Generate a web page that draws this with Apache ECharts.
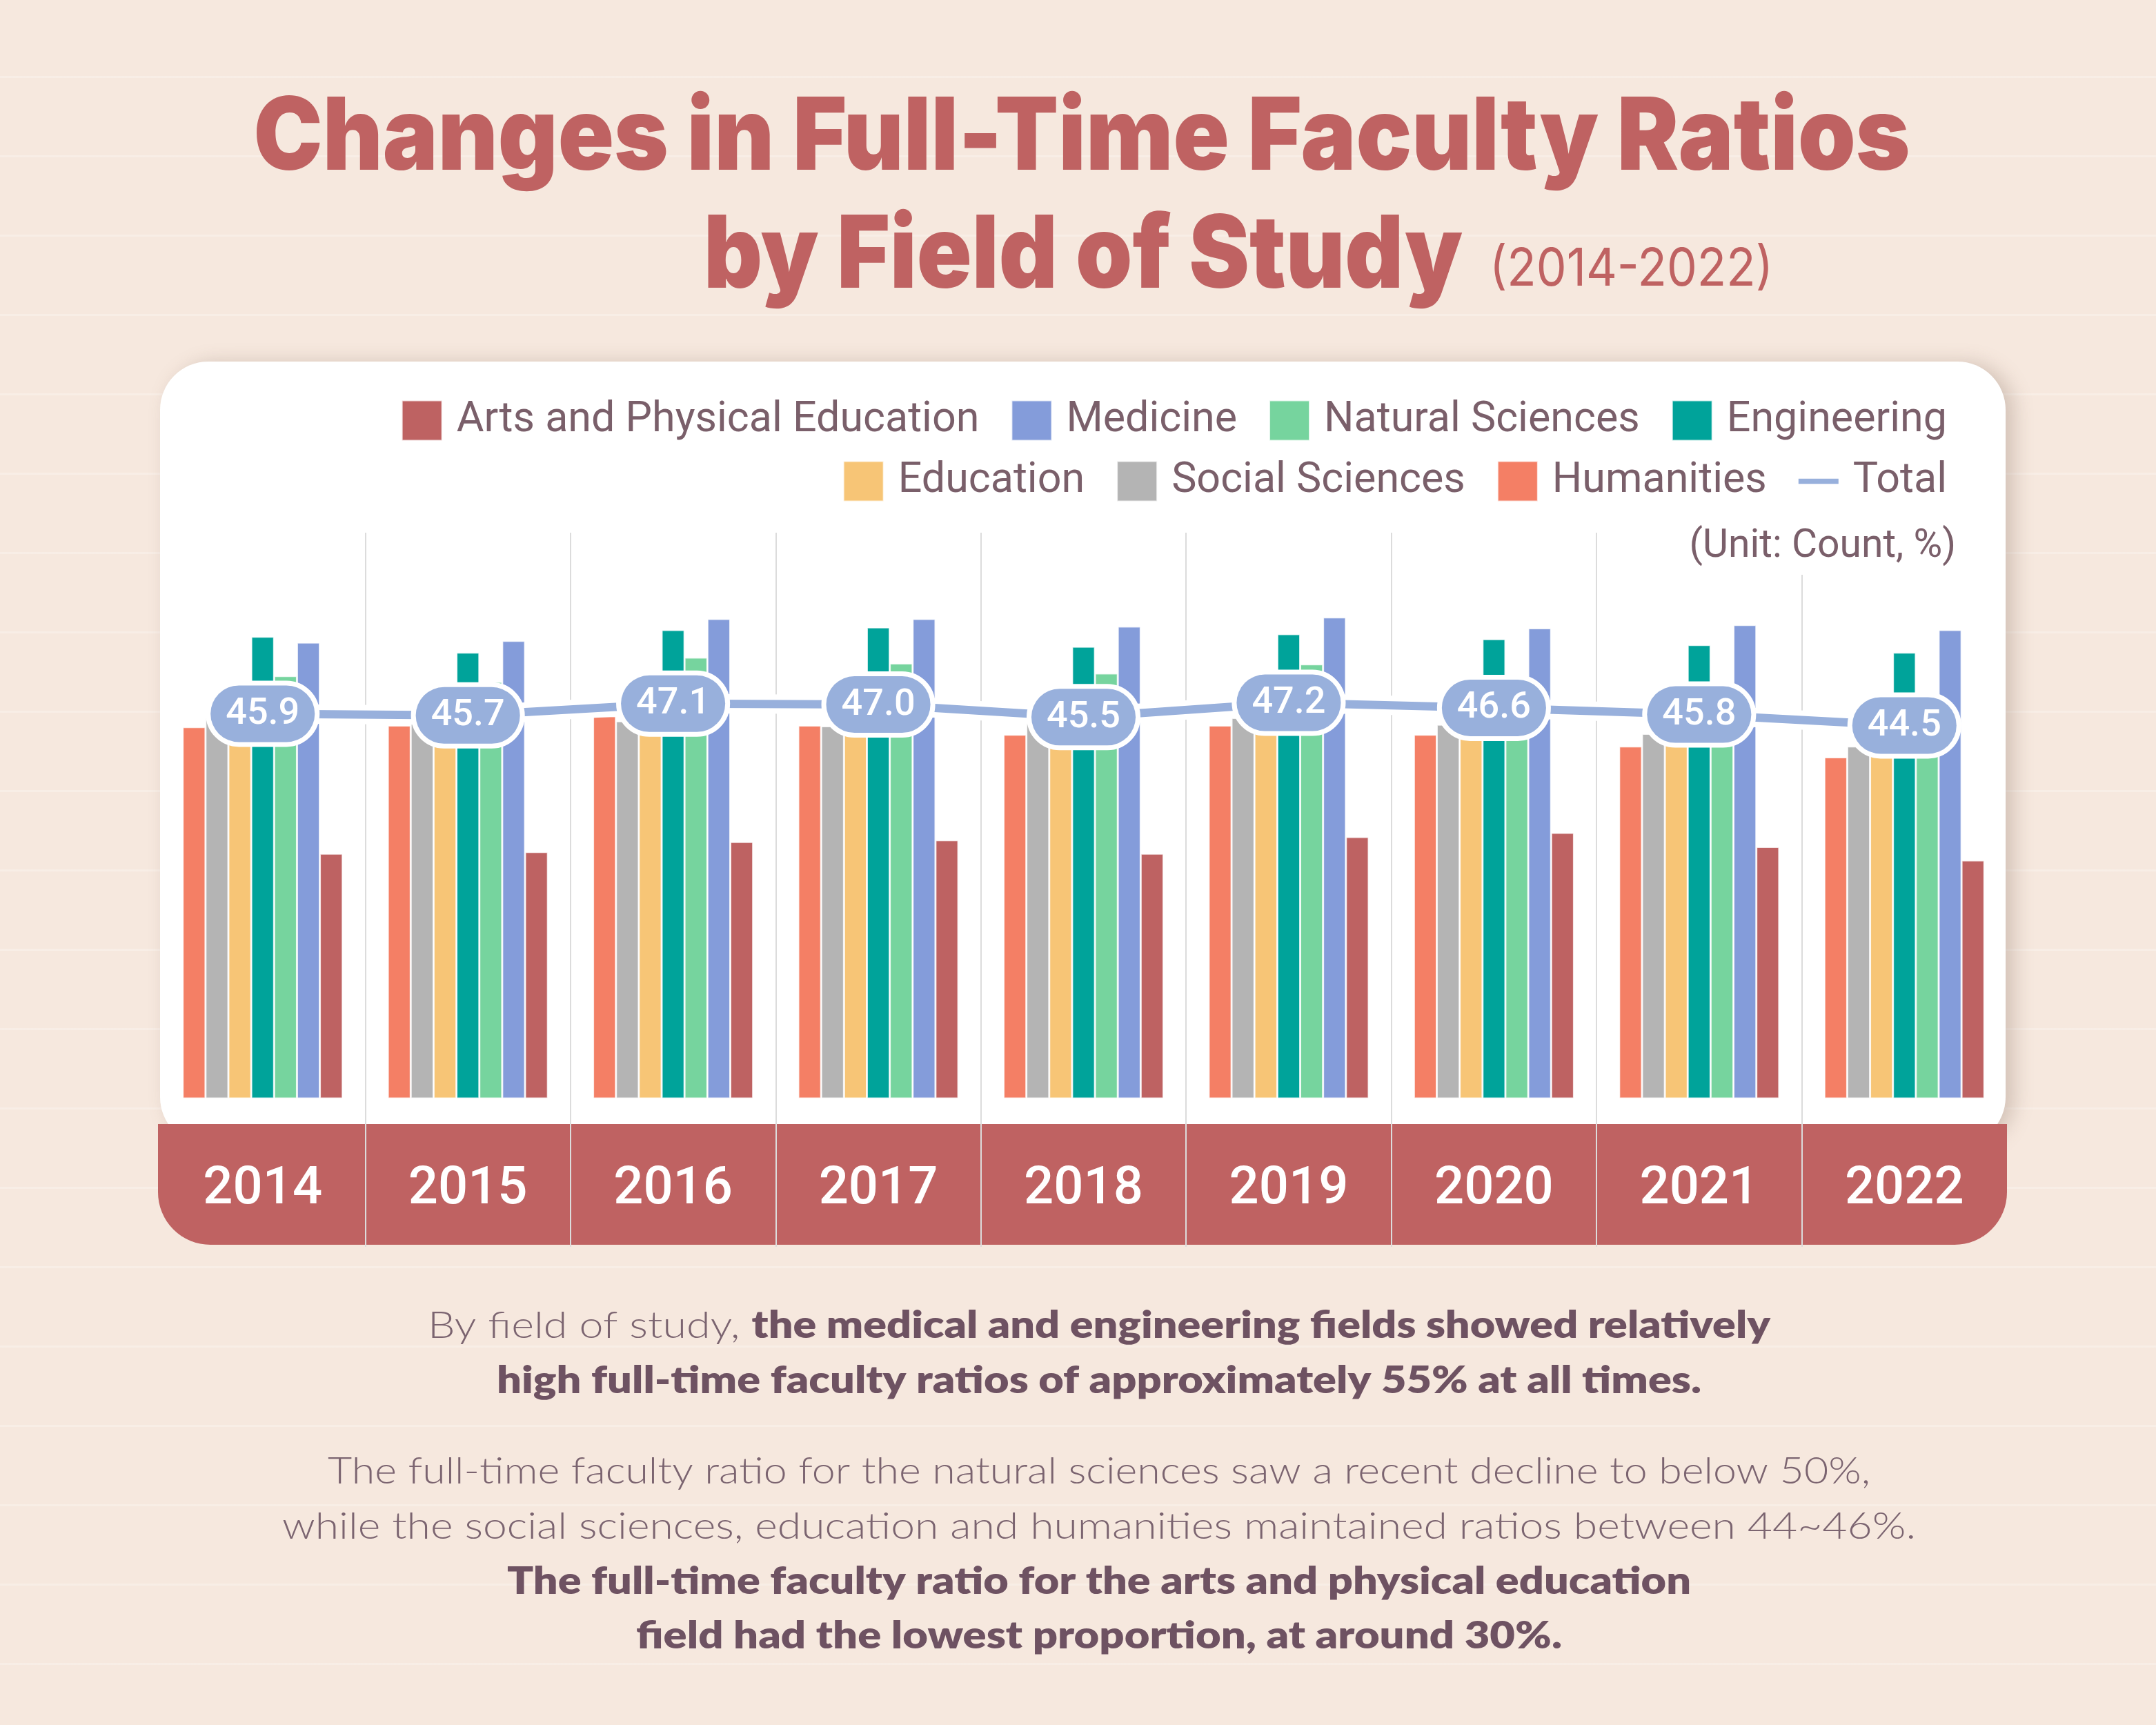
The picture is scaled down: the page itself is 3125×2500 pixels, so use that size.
<!DOCTYPE html>
<html>
<head>
<meta charset="utf-8">
<script src="https://cdn.jsdelivr.net/npm/echarts@6/dist/echarts.min.js"></script>
<style>
html,body{margin:0;padding:0;}
body{
  width:3125px;height:2500px;overflow:hidden;
  background-color:#f6e8de;
  background-image:repeating-linear-gradient(180deg, rgba(255,255,255,0) 0px, rgba(255,255,255,0) 110px, rgba(255,255,255,0.25) 110px, rgba(255,255,255,0.25) 113px, rgba(255,255,255,0) 113px, rgba(255,255,255,0) 115px);
}
#c{width:3125px;height:2500px;}
</style>
</head>
<body>
<div id="c"></div>
<script>
// ---------------- DATA ----------------
const years = ['2014','2015','2016','2017','2018','2019','2020','2021','2022'];
const humanities      = [44.3, 44.5, 45.6, 44.5, 43.4, 44.5, 43.4, 42.0, 40.7];
const socialSciences  = [45.4, 45.1, 45.0, 44.4, 44.8, 45.4, 44.6, 43.5, 42.0];
const education       = [45.1, 44.9, 45.5, 45.0, 44.6, 45.3, 44.9, 44.2, 43.2];
const engineering     = [55.1, 53.2, 55.9, 56.2, 53.9, 55.4, 54.8, 54.1, 53.2];
const naturalSciences = [50.4, 49.7, 52.6, 51.9, 50.7, 51.8, 50.4, 48.3, 47.0];
const medicine        = [54.4, 54.6, 57.2, 57.2, 56.3, 57.4, 56.1, 56.5, 55.9];
const artsPE          = [29.2, 29.4, 30.6, 30.8, 29.2, 31.2, 31.7, 30.0, 28.4];
const total           = [45.9, 45.7, 47.1, 47.0, 45.5, 47.2, 46.6, 45.8, 44.5];

const legendRow1 = ['Arts and Physical Education','Medicine','Natural Sciences','Engineering'];
const legendRow2 = ['Education','Social Sciences','Humanities','Total'];
const unitText = '(Unit: Count, %)';

const titleLine1 = 'Changes in Full-Time Faculty Ratios';
const titleLine2 = 'by Field of Study';
const titleYears = '(2014-2022)';
const noteLines = [
  [['r','By field of study, '],['b','the medical and engineering fields showed relatively']],
  [['b','high full-time faculty ratios of approximately 55% at all times.']],
  [['r','The full-time faculty ratio for the natural sciences saw a recent decline to below 50%,']],
  [['r','while the social sciences, education and humanities maintained ratios between 44~46%.']],
  [['b','The full-time faculty ratio for the arts and physical education']],
  [['b','field had the lowest proportion, at around 30%.']]
];

// ---------------- STYLE ----------------
const C = {
  humanities:'#f47f65', social:'#b4b4b4', education:'#f7c576', engineering:'#00a39a',
  natural:'#76d49e', medicine:'#849cda', arts:'#be6262', total:'#98b0dc',
  title:'#bf6262', band:'#bf6262', text:'#7a5f6a', noteR:'#7b6470', noteB:'#6e5262'
};
const noteLayout = [ // [centerY, targetWidth]
  [1922, 1946],[2002, 1746],[2133, 2236],[2213, 2368],[2293, 1716],[2372, 1342]
];

const ctx = document.createElement('canvas').getContext('2d');
function measure(segs){
  let t = 0;
  for (const s of segs){ ctx.font = s.weight + ' ' + s.size + 'px ' + s.family; t += ctx.measureText(s.text).width; }
  return t;
}

const graphics = [];
// card
graphics.push({type:'rect', z:-20, shape:{x:232,y:524,width:2675,height:1136,r:70},
  style:{fill:'#ffffff', shadowBlur:28, shadowOffsetX:12, shadowOffsetY:2, shadowColor:'rgba(120,95,80,0.28)'}});
// year band
graphics.push({type:'rect', z:-10, shape:{x:229,y:1629,width:2680,height:175,r:[0,0,76,76]},
  style:{fill:C.band}});

// title
(function(){
  const fam = 'Inter', size = 146;
  const w1 = measure([{text:titleLine1, size, weight:900, family:fam}]);
  graphics.push({type:'text', z:30, x:1568, y:202, scaleX:2401/w1,
    style:{text:titleLine1, fontFamily:fam, fontWeight:900, fontSize:size, fill:C.title, align:'center', verticalAlign:'middle'}});
  const w2 = measure([{text:titleLine2, size, weight:900, family:fam}]);
  graphics.push({type:'text', z:30, x:1020, y:373, scaleX:1100/w2,
    style:{text:titleLine2, fontFamily:fam, fontWeight:900, fontSize:size, fill:C.title, align:'left', verticalAlign:'middle'}});
  const w3 = measure([{text:titleYears, size:76, weight:400, family:fam}]);
  graphics.push({type:'text', z:30, x:2159, y:391, scaleX:411/w3,
    style:{text:titleYears, fontFamily:fam, fontWeight:400, fontSize:76, fill:C.title, align:'left', verticalAlign:'middle'}});
})();

// notes
(function(){
  const fam = 'Lato', size = 54;
  const rich = {
    r:{fontFamily:fam, fontWeight:300, fontSize:size, fill:C.noteR},
    b:{fontFamily:fam, fontWeight:800, fontSize:size, fill:C.noteB}
  };
  noteLines.forEach((segs, i) => {
    const m = measure(segs.map(s => ({text:s[1], size, weight: s[0]==='b'?800:300, family:fam})));
    const str = segs.map(s => '{' + s[0] + '|' + s[1] + '}').join('');
    graphics.push({type:'text', z:30, x:1593, y:noteLayout[i][0], scaleX:noteLayout[i][1]/m,
      style:{text:str, rich, fontFamily:fam, fontSize:size, fill:C.noteR, align:'center', verticalAlign:'middle'}});
  });
})();

const barNames = ['Humanities','Social Sciences','Education','Engineering','Natural Sciences','Medicine','Arts and Physical Education'];
const barData = [humanities, socialSciences, education, engineering, naturalSciences, medicine, artsPE];
const barColors = [C.humanities, C.social, C.education, C.engineering, C.natural, C.medicine, C.arts];

const series = barNames.map((n, i) => ({
  name:n, type:'bar', data:barData[i], barGap:'0%', barCategoryGap:'22%', z:2,
  itemStyle:{color:barColors[i], borderColor:'rgba(255,255,255,0.75)', borderWidth:1.5},
  emphasis:{disabled:true}, silent:true
}));
series.push({
  name:'_totalUnder', type:'line', data:total, z:3, symbol:'none', silent:true,
  lineStyle:{color:'#ffffff', width:28}, itemStyle:{color:'#ffffff'}, emphasis:{disabled:true}
});
series.push({
  name:'Total', type:'line', data:total, z:4, symbol:'circle', symbolSize:2, silent:true,
  lineStyle:{color:C.total, width:12}, itemStyle:{color:C.total}, emphasis:{disabled:true},
  label:{show:true, position:'inside', formatter:p => '{v|' + p.value.toFixed(1) + '}',
    rich:{v:{color:'#ffffff', fontFamily:'Roboto', fontWeight:500, fontSize:54, lineHeight:54}},
    color:'#ffffff', fontFamily:'Roboto', fontWeight:500, fontSize:54,
    backgroundColor:C.total, borderColor:'#ffffff', borderWidth:7, borderRadius:46, padding:[15,22,13,22]}
});

const legendCommon = {
  orient:'horizontal', right:303, padding:0, itemWidth:58, itemHeight:58, itemGap:46,
  selectedMode:false, icon:'rect',
  textStyle:{fontFamily:'Roboto', fontSize:61, color:C.text, padding:[0,0,0,16]}
};

const option = {
  backgroundColor:'transparent',
  animation:false,
  title:{
    text:unitText, right:286, top:758, padding:[6,4,12,24], backgroundColor:'#ffffff',
    textStyle:{fontFamily:'Roboto', fontWeight:400, fontSize:57, color:C.text}, z:10
  },
  legend:[
    Object.assign({}, legendCommon, {top:579, data:legendRow1.map(n=>({name:n}))}),
    Object.assign({}, legendCommon, {top:667, data:legendRow2.map(n=>(n==='Total'?{name:n, icon:'path://M0,0L60,0L60,8L0,8Z'}:{name:n}))})
  ],
  grid:{left:232, right:216, top:772, bottom:693, containLabel:false},
  xAxis:{
    type:'category', data:years, boundaryGap:true,
    axisLine:{show:false}, axisTick:{show:false},
    axisLabel:{inside:true, margin:82, verticalAlign:'middle', color:'#ffffff', fontFamily:'Roboto', fontWeight:500, fontSize:76, interval:0},
    splitLine:{show:true, interval:0, showMinLine:false, showMaxLine:false, lineStyle:{color:'#dcdcdc', width:2}}
  },
  yAxis:{
    type:'value', min:-17.7, max:67.5, show:false,
    splitLine:{show:false}
  },
  graphic:{elements:graphics},
  series
};

const chart = echarts.init(document.getElementById('c'), null, {width:3125, height:2500});
chart.setOption(option);
</script>
</body>
</html>
